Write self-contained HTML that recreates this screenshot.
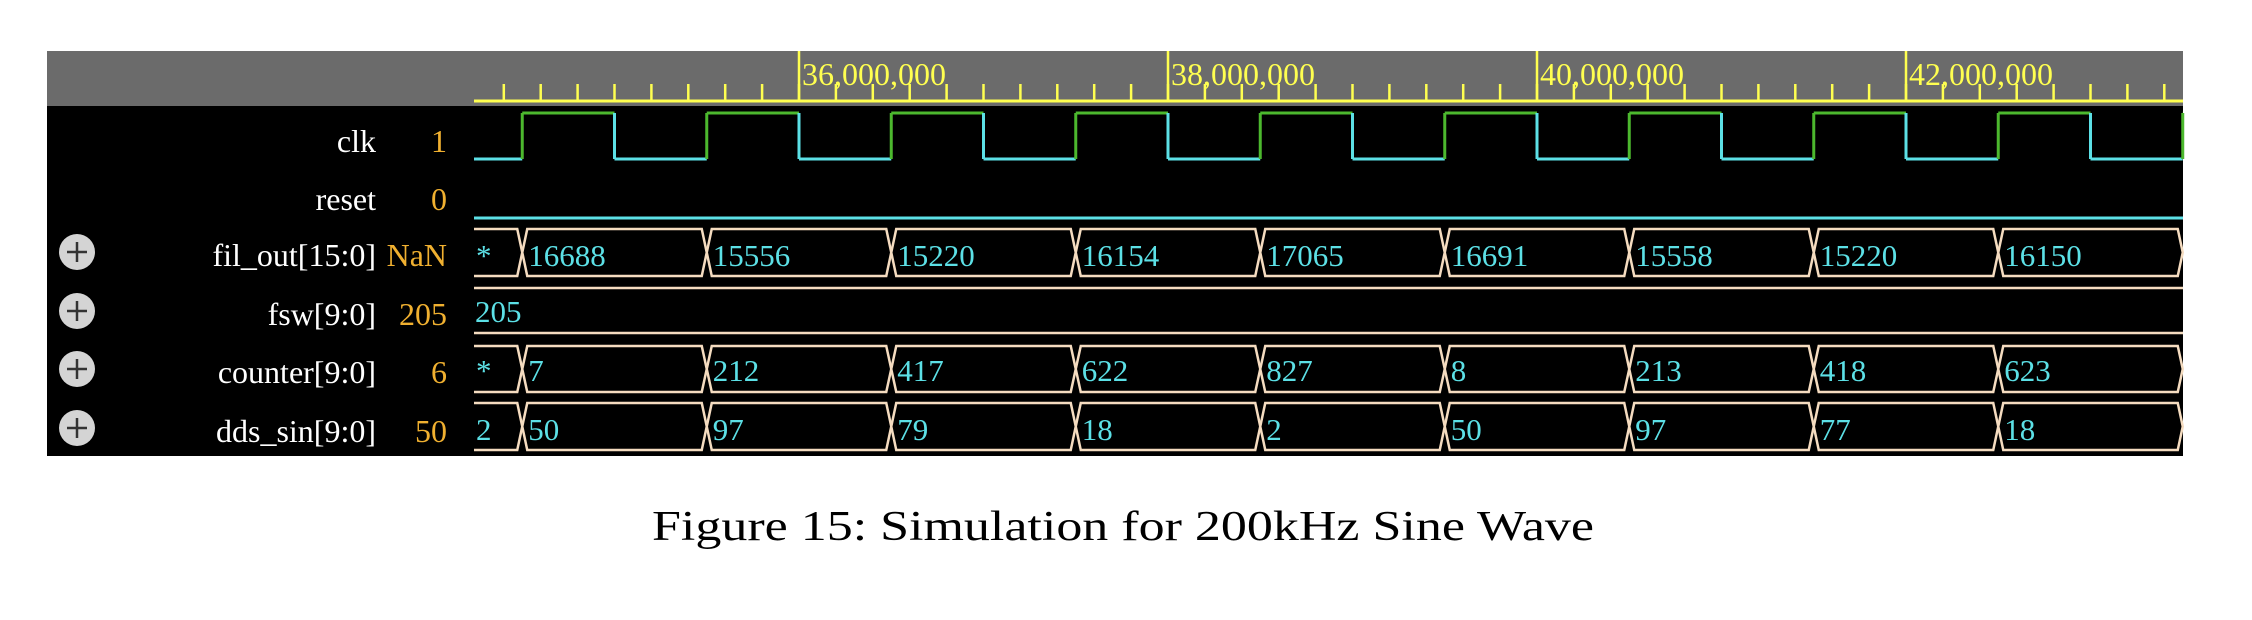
<!DOCTYPE html>
<html><head><meta charset="utf-8"><style>
html,body{margin:0;padding:0;background:#fff;width:2252px;height:620px;overflow:hidden}
svg{display:block}
</style></head><body>
<svg id="wave" width="2252" height="620" xmlns="http://www.w3.org/2000/svg" font-family="'Liberation Serif', serif">
<rect x="47" y="51" width="2136" height="405" fill="#000"/>
<rect x="47" y="51" width="2136" height="55" fill="#6b6b6b"/>
<line x1="474" y1="101" x2="2183" y2="101" stroke="#ffff50" stroke-width="3"/>
<g id="ticks"></g>
<g id="names"></g>
<g id="waves"></g>
<text x="652" y="540" font-size="42" fill="#000" font-family="'Liberation Serif', serif" textLength="942" lengthAdjust="spacingAndGlyphs">Figure 15: Simulation for 200kHz Sine Wave</text>
</svg>
<script>
const majorTicks = [36000000, 38000000, 40000000, 42000000];
const majorLabels = ["36,000,000", "38,000,000", "40,000,000", "42,000,000"];
const clkRises = [34500000,35500000,36500000,37500000,38500000,39500000,40500000,41500000,42500000,43500000];
const clkFalls = [35000000,36000000,37000000,38000000,39000000,40000000,41000000,42000000,43000000];
const busTimes = [34500000,35500000,36500000,37500000,38500000,39500000,40500000,41500000,42500000,43500000];
const filOut = ["*","16688","15556","15220","16154","17065","16691","15558","15220","16150"];
const counterVals = ["*","7","212","417","622","827","8","213","418","623"];
const ddsVals = ["2","50","97","79","18","2","50","97","77","18"];
const signalNames = ["clk","reset","fil_out[15:0]","fsw[9:0]","counter[9:0]","dds_sin[9:0]"];
const signalValues = ["1","0","NaN","205","6","50"];

const NS = "http://www.w3.org/2000/svg";
const X0 = 474, X1 = 2183;
function xs(t){ return 799 + (t - 36000000) * 369 / 2000000; }
function mk(tag, attrs, parent){ const e = document.createElementNS(NS, tag); for (const k in attrs) e.setAttribute(k, attrs[k]); parent.appendChild(e); return e; }

const ticks = document.getElementById('ticks');
for (let t = 34400000; t <= 43700000; t += 200000) {
  const x = xs(t); if (x < X0 || x > X1) continue;
  const l = mk('line', {x1:x, y1:84, x2:x, y2:101, stroke:'#ffff50', 'stroke-width':2.5}, ticks);
  
  
}
majorTicks.forEach((t,i) => {
  const x = xs(t);
  const l = mk('line', {x1:x, y1:51, x2:x, y2:101, stroke:'#ffff50', 'stroke-width':2.5}, ticks);
  
  
  const tx = mk('text', {x:x+3, y:85, 'font-size':32, fill:'#ffff50'}, ticks);
  tx.textContent = majorLabels[i];
  
  
});

const names = document.getElementById('names');
const baselines = [152, 210, 266, 325, 383, 442];
signalNames.forEach((n,i) => {
  const y = baselines[i];
  if (i >= 2) {
    const g = mk('g', {}, names);
    
    
    const cy = y - 14;
    mk('circle', {cx:77, cy:cy, r:18, fill:'#d4d4d4'}, g);
    mk('line', {x1:67, y1:cy, x2:87, y2:cy, stroke:'#333', 'stroke-width':2.5}, g);
    mk('line', {x1:77, y1:cy-10, x2:77, y2:cy+10, stroke:'#333', 'stroke-width':2.5}, g);
  }
  const t = mk('text', {x:376, y:y, 'font-size':32, fill:'#fff', 'text-anchor':'end'}, names);
  t.textContent = n;
  
  
  const v = mk('text', {x:447, y:y, 'font-size':32, fill:'#f0b030', 'text-anchor':'end'}, names);
  v.textContent = signalValues[i];
  
  
});

const waves = document.getElementById('waves');
const HI = 113, LO = 159;
const edges = clkRises.map(t=>({t, r:true})).concat(clkFalls.map(t=>({t, r:false}))).sort((a,b)=>a.t-b.t);
let prevX = X0, level = false;
edges.forEach(e => {
  let x = Math.min(xs(e.t), X1);
  if (x < X0) { level = e.r; return; }
  const y = level ? HI : LO;
  const seg = mk('line', {x1:prevX, y1:y, x2:x, y2:y, stroke: level ? '#4cb82e' : '#5ce0e6', 'stroke-width':3}, waves);
  
  
  const ed = mk('line', {x1:x, y1:HI, x2:x, y2:LO, stroke: e.r ? '#4cb82e' : '#5ce0e6', 'stroke-width':3}, waves);
  
  
  prevX = x; level = e.r;
});
if (prevX < X1) {
  const s = mk('line', {x1:prevX, y1:level?HI:LO, x2:X1, y2:level?HI:LO, stroke: level ? '#4cb82e' : '#5ce0e6', 'stroke-width':3}, waves);
  
  
}
const rl = mk('line', {x1:X0, y1:218, x2:X1, y2:218, stroke:'#5ce0e6', 'stroke-width':3}, waves);



function bus(vals, top, bot, baseline, name){
  const mid = (top+bot)/2, h = 5;
  for (let i = 0; i < vals.length; i++) {
    const xa = i === 0 ? X0 : xs(busTimes[i-1]);
    const xb = Math.min(xs(busTimes[i]), X1);
    const la = i === 0 ? xa : xa + h, lb = xb - h;
    let d = `M${la},${top} L${lb},${top} L${xb},${mid} L${lb},${bot} L${la},${bot}`;
    if (i > 0) d += ` L${xa},${mid} Z`;
    const p = mk('path', {d, fill:'none', stroke:'#f5dcc0', 'stroke-width':2.5}, waves);
    
    
    const t = mk('text', {x: i === 0 ? X0+2 : xa+6, y: baseline, 'font-size':31, fill:'#5ce0e6'}, waves);
    t.textContent = vals[i];
    
    
  }
}
bus(filOut, 229, 276, 266, 'fil-out');
bus(counterVals, 346, 392, 381, 'counter');
bus(ddsVals, 403, 450, 440, 'dds-sin');
const f1 = mk('line', {x1:X0, y1:288, x2:X1, y2:288, stroke:'#f5dcc0', 'stroke-width':2.5}, waves);


const f2 = mk('line', {x1:X0, y1:333, x2:X1, y2:333, stroke:'#f5dcc0', 'stroke-width':2.5}, waves);


const ft = mk('text', {x:X0+1, y:322, 'font-size':31, fill:'#5ce0e6'}, waves);
ft.textContent = '205';


</script>
</body></html>
